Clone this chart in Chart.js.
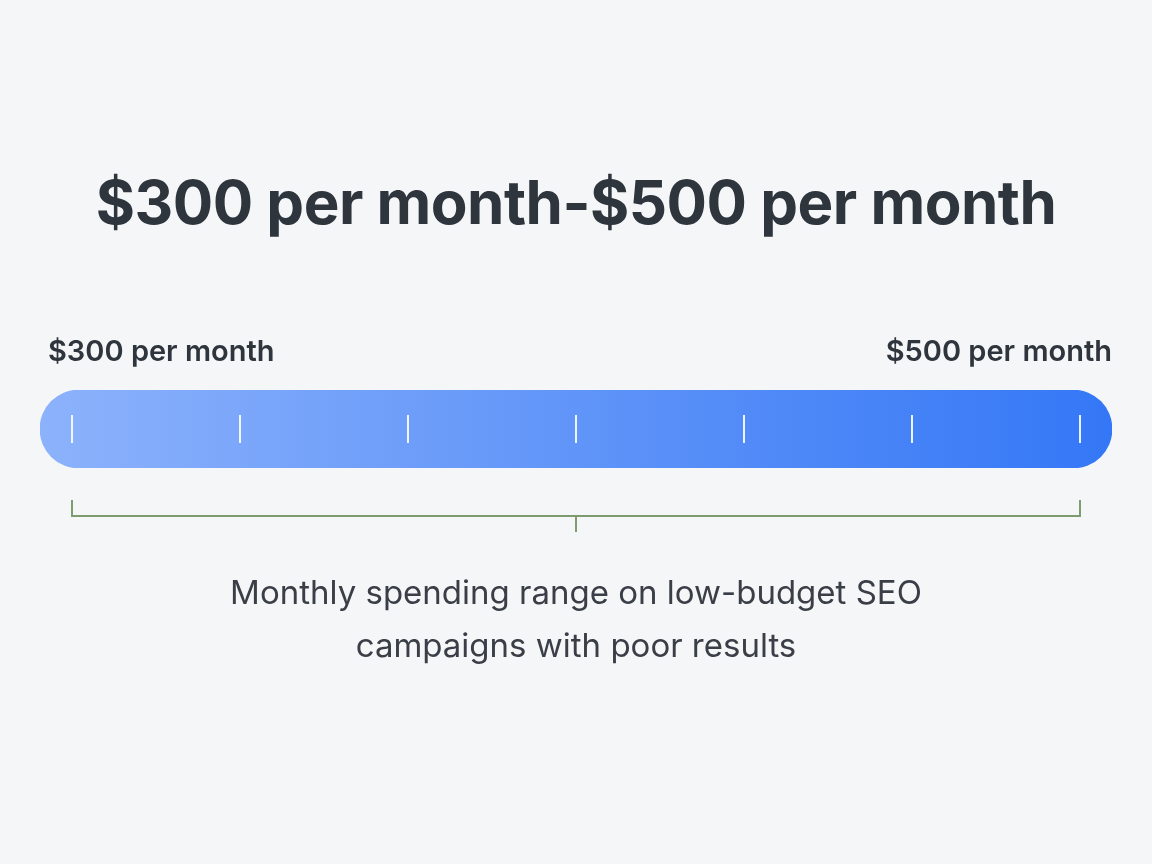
<!DOCTYPE html>
<html>
<head>
<meta charset="utf-8">
<script src="https://cdn.jsdelivr.net/npm/chart.js@4"></script>
<style>
  body { margin: 0; background: #f5f6f8; font-family: Inter, "Noto Sans", sans-serif; }
  #wrap { position: relative; width: 1152px; height: 864px; }
  canvas { position: absolute; left: 0; top: 0; }
  .t { position: absolute; color: #2f353d; white-space: nowrap; }
  #title { left: 0; width: 1152px; text-align: center; top: 166px; font-size: 60px; font-weight: 700; letter-spacing: -0.5px; }
  #lo { left: 48px; top: 333px; font-size: 29px; font-weight: 600; }
  #hi { right: 40px; top: 333px; font-size: 29px; font-weight: 600; }
  #cap { left: 0; width: 1152px; text-align: center; top: 566px; font-size: 33px; line-height: 53px; color: #3a3f47; }
</style>
</head>
<body>
<div id="wrap">
  <canvas id="c" width="1152" height="864"></canvas>
  <div class="t" id="title"></div>
  <div class="t" id="lo"></div>
  <div class="t" id="hi"></div>
  <div class="t" id="cap"></div>
</div>
<script>
// range data
const rangeLow = 300;
const rangeHigh = 500;
const tickCount = 7;
const titleText = '$300 per month-$500 per month';
const lowLabel = '$300 per month';
const highLabel = '$500 per month';
const caption = ['Monthly spending range on low-budget SEO', 'campaigns with poor results'];

document.getElementById('title').innerText = titleText;
document.getElementById('lo').innerText = lowLabel;
document.getElementById('hi').innerText = highLabel;
document.getElementById('cap').innerHTML = caption.join('<br>');

// track extends a bit past the range ends (pill caps)
const pad = (rangeHigh - rangeLow) * 32 / 1008;
const trackMin = rangeLow - pad, trackMax = rangeHigh + pad;

const overlay = {
    id: 'overlay',
    afterDatasetsDraw(chart) {
        const ctx = chart.ctx, x = chart.scales.x, a = chart.chartArea;
        const mid = (a.top + a.bottom) / 2;
        ctx.save();
        // white tick marks inside the bar
        ctx.strokeStyle = 'rgba(255,255,255,0.9)';
        ctx.lineWidth = 2;
        for (let i = 0; i < tickCount; i++) {
            const px = Math.round(x.getPixelForValue(rangeLow + i * (rangeHigh - rangeLow) / (tickCount - 1)));
            ctx.beginPath(); ctx.moveTo(px, mid - 14); ctx.lineTo(px, mid + 14); ctx.stroke();
        }
        // bracket below
        const l = x.getPixelForValue(rangeLow), r = x.getPixelForValue(rangeHigh), c = (l + r) / 2;
        const by = a.bottom + 48;
        ctx.strokeStyle = '#7f9c70';
        ctx.lineWidth = 2;
        ctx.beginPath();
        ctx.moveTo(l, by - 16); ctx.lineTo(l, by); ctx.lineTo(r, by); ctx.lineTo(r, by - 16);
        ctx.moveTo(c, by); ctx.lineTo(c, by + 16);
        ctx.stroke();
        ctx.restore();
    }
};

new Chart(document.getElementById('c'), {
    type: 'bar',
    data: {
        labels: ['range'],
        datasets: [{
            data: [[trackMin, trackMax]],
            backgroundColor: (ctx) => {
                const a = ctx.chart.chartArea;
                if (!a) return '#5b93f8';
                const g = ctx.chart.ctx.createLinearGradient(a.left, 0, a.right, 0);
                g.addColorStop(0, '#8cb2fb');
                g.addColorStop(1, '#3477f6');
                return g;
            },
            borderRadius: 39,
            borderSkipped: false,
            barPercentage: 1,
            categoryPercentage: 1
        }]
    },
    options: {
        indexAxis: 'y',
        responsive: false,
        animation: false,
        layout: { padding: { left: 40, right: 40, top: 390, bottom: 396 } },
        plugins: { legend: { display: false }, tooltip: { enabled: false } },
        scales: {
            x: { min: trackMin, max: trackMax, display: false },
            y: { display: false }
        }
    },
    plugins: [overlay]
});
</script>
</body>
</html>
